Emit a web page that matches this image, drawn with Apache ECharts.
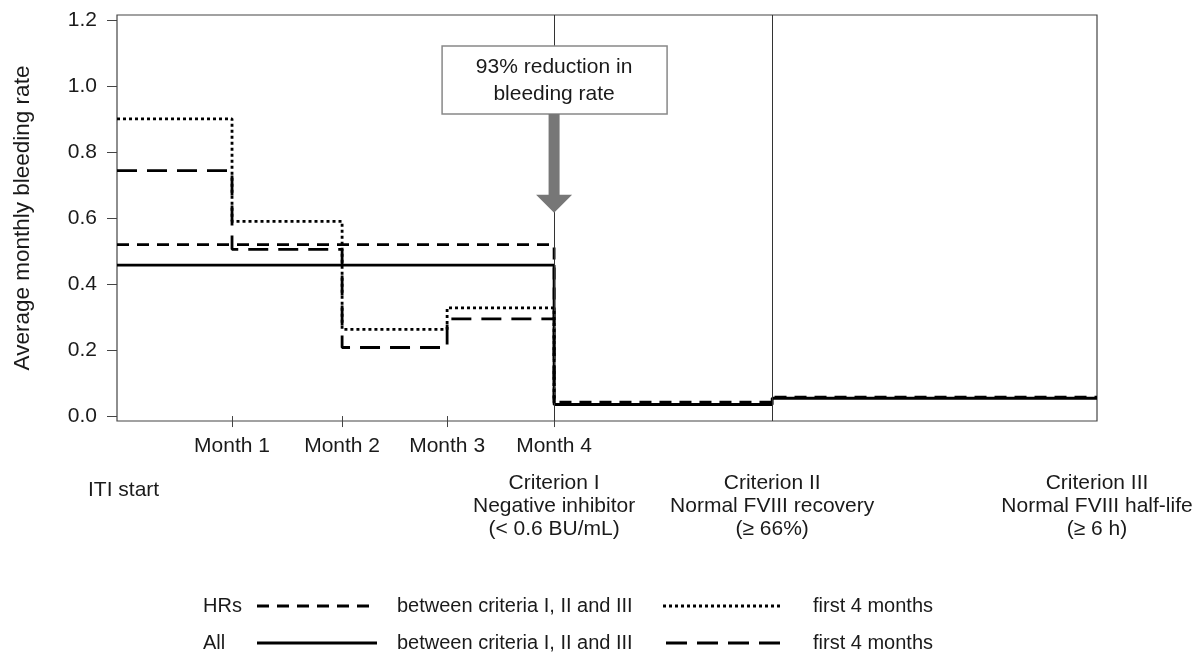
<!DOCTYPE html>
<html style="height: 100%">
<head>
<meta charset="utf-8">
</head>
<body style="height: 100%; margin: 0; background: #fff">
<div id="container" style="width: 1194px; height: 657px"></div>
<script src="https://cdn.jsdelivr.net/npm/echarts@6/dist/echarts.min.js"></script>
<script type="text/javascript">
// x positions (in months from ITI start) of the month ticks and criteria
var monthPos = [1.0, 1.957, 2.87, 3.80];
var monthLabels = ['Month 1', 'Month 2', 'Month 3', 'Month 4'];
var critPos = [3.80, 5.696, 8.52];
var yTicks = [0, 0.2, 0.4, 0.6, 0.8, 1.0, 1.2];

// step boundaries and values
var betweenX = [0, critPos[0], critPos[1], critPos[2]];
var hrsBetween = [0.52, 0.042, 0.057, 0.057];
var allBetween = [0.458, 0.035, 0.054, 0.054];
var first4X = [0, monthPos[0], monthPos[1], monthPos[2], monthPos[3]];
var hrsFirst4 = [0.902, 0.591, 0.263, 0.328, 0.045];
var allFirst4 = [0.745, 0.506, 0.208, 0.295, 0.04];

var font = "'Liberation Sans', Arial, sans-serif";
var ink = '#1a1a1a';

function pairs(xs, ys) {
    var res = [];
    for (var i = 0; i < xs.length; i++) {
        res.push([xs[i], ys[i]]);
    }
    return res;
}

function stepSeries(name, xs, ys, dash, z) {
    return {
        name: name,
        type: 'line',
        step: 'end',
        symbol: 'none',
        z: z,
        lineStyle: { color: '#000', width: 2.8, type: dash, cap: 'butt' },
        data: pairs(xs, ys)
    };
}

var dom = document.getElementById('container');
var chart = echarts.init(dom);
var option = {
    animation: false,
    backgroundColor: '#fff',
    textStyle: { fontFamily: font, color: ink },
    grid: {
        left: 117, right: 97, top: 15, bottom: 236,
        outerBoundsMode: 'none',
        containLabel: false,
        show: true, borderColor: '#444', borderWidth: 1.2,
        backgroundColor: '#fff'
    },
    xAxis: {
        type: 'value',
        min: 0,
        max: critPos[2],
        axisLine: { show: false },
        splitLine: { show: false },
        axisTick: { customValues: monthPos, length: 11, lineStyle: { color: '#444', width: 1 } },
        axisLabel: {
            customValues: monthPos,
            margin: 15,
            fontSize: 21,
            fontFamily: font,
            color: ink,
            formatter: function (v) {
                for (var i = 0; i < monthPos.length; i++) {
                    if (Math.abs(monthPos[i] - v) < 1e-6) return monthLabels[i];
                }
                return '';
            }
        }
    },
    yAxis: {
        type: 'value',
        min: -0.015,
        max: 1.217,
        name: 'Average monthly bleeding rate',
        nameLocation: 'middle',
        nameGap: 83,
        nameTextStyle: { fontSize: 22.5, fontFamily: font, color: ink },
        axisLine: { show: false },
        splitLine: { show: false },
        axisTick: { customValues: yTicks, length: 10, lineStyle: { color: '#444', width: 1 } },
        axisLabel: {
            customValues: yTicks,
            margin: 20,
            fontSize: 21,
            fontFamily: font,
            color: ink,
            formatter: function (v) { return v.toFixed(1); }
        }
    },
    series: [
        {
            type: 'line',
            data: [],
            markLine: {
                silent: true,
                symbol: ['none', 'none'],
                label: { show: false },
                lineStyle: { color: '#333', width: 1, type: 'solid' },
                data: [{ xAxis: critPos[0] }, { xAxis: critPos[1] }]
            }
        },
        stepSeries('All between', betweenX, allBetween, 'solid', 3),
        stepSeries('HRs between', betweenX, hrsBetween, [12, 8], 4),
        stepSeries('All first 4', first4X, allFirst4, [20, 10], 5),
        stepSeries('HRs first 4', first4X, hrsFirst4, [3, 3], 6)
    ]
};
chart.setOption(option);

// annotation, criterion captions and legend
var mx = chart.convertToPixel({ gridIndex: 0 }, [critPos[0], 0])[0];
var tipY = chart.convertToPixel({ gridIndex: 0 }, [0, 0.617])[1];
var c2 = chart.convertToPixel({ gridIndex: 0 }, [critPos[1], 0])[0];
var c3 = chart.convertToPixel({ gridIndex: 0 }, [critPos[2], 0])[0];
var x0 = chart.convertToPixel({ gridIndex: 0 }, [0, 0])[0];

function txt(x, y, s, align, size) {
    return {
        type: 'text', z: 100, x: x, y: y,
        style: {
            text: s, fill: ink, font: (size || 21) + 'px ' + font,
            align: align || 'center', verticalAlign: 'middle', lineHeight: 23
        }
    };
}
function seg(x1, x2, y, dash) {
    return {
        type: 'line', z: 100,
        shape: { x1: x1, y1: y, x2: x2, y2: y },
        style: { stroke: '#000', lineWidth: 3, lineDash: dash }
    };
}

var graphics = [
    {
        type: 'rect', z: 100,
        shape: { x: mx - 112, y: 46, width: 225, height: 68 },
        style: { fill: '#fff', stroke: '#888', lineWidth: 1.5 }
    },
    {
        type: 'text', z: 101, x: mx, y: 81,
        style: {
            text: '93% reduction in\nbleeding rate', fill: ink, font: '21px ' + font,
            align: 'center', verticalAlign: 'middle', lineHeight: 27
        }
    },
    {
        type: 'polygon', z: 100,
        shape: {
            points: [[mx - 5.5, 114], [mx + 5.5, 114], [mx + 5.5, tipY - 18], [mx + 18, tipY - 18],
                     [mx, tipY], [mx - 18, tipY - 18], [mx - 5.5, tipY - 18]]
        },
        style: { fill: '#777' }
    },
    txt(x0 - 29, 490, 'ITI start', 'left'),
    txt(mx, 506, 'Criterion I\nNegative inhibitor\n(< 0.6 BU/mL)'),
    txt(c2, 506, 'Criterion II\nNormal FVIII recovery\n(\u2265 66%)'),
    txt(c3, 506, 'Criterion III\nNormal FVIII half-life\n(\u2265 6 h)'),
    txt(203, 606, 'HRs', 'left', 20),
    txt(203, 643, 'All', 'left', 20),
    seg(257, 372, 606, [12, 8]),
    seg(257, 377, 643, null),
    txt(397, 606, 'between criteria I, II and III', 'left', 20),
    txt(397, 643, 'between criteria I, II and III', 'left', 20),
    seg(663, 782, 606, [3, 3]),
    seg(666, 782, 643, [21, 10]),
    txt(813, 606, 'first 4 months', 'left', 20),
    txt(813, 643, 'first 4 months', 'left', 20)
];
chart.setOption({ graphic: graphics });
</script>
</body>
</html>
